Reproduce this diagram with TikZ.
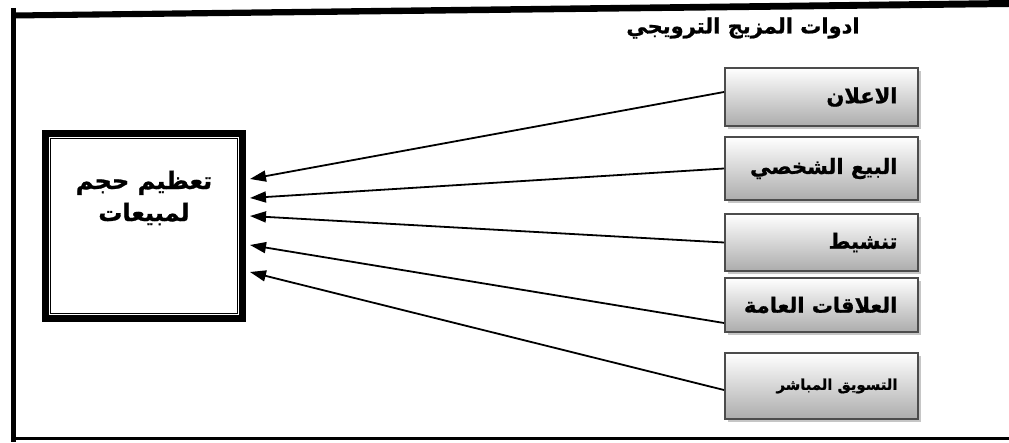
\documentclass[tikz,border=0pt]{standalone}
\usepackage{fontspec}
\newfontfamily\arabicfont[Script=Arabic,BoldFeatures={FakeBold=1}]{DejaVu Sans}
\TeXXeTstate=1
\usetikzlibrary{arrows.meta,shadows}
\newcommand\rtlbox[1]{\makebox[76pt][r]{\beginR #1\endR}}
\begin{document}
\begin{tikzpicture}[x=0.5pt,y=-0.5pt,
  toolbox/.style={draw=gray!60!black,line width=1pt,top color=white,bottom color=gray!65,
    drop shadow={shadow xshift=1.6pt,shadow yshift=-1.6pt,fill=gray!45,opacity=1},
    minimum width=96.5pt,inner xsep=10.25pt,font=\arabicfont\bfseries\fontsize{10.5}{13}\selectfont},
  goalbox/.style={draw,line width=3.6pt,minimum width=98.4pt,minimum height=92.4pt,inner sep=0pt},
  pull/.style={line width=0.9pt,-{Triangle[length=8pt,width=5.5pt]}}]
\useasboundingbox (0,0) rectangle (1009,443);
\fill (13,12.5) -- (1009,0) -- (1009,7) -- (13,18.5) -- cycle;
\draw[line width=2.5pt] (13,8) -- (13,442);
\draw[line width=1.5pt] (13,439) -- (1009,439);
\node (title) at (743,28) {\arabicfont\bfseries\fontsize{10.5}{12}\selectfont\beginR ادوات المزيج الترويجي\endR};
\node[toolbox,minimum height=29pt] (ad) at (821.5,97) {\rtlbox{الاعلان}};
\node[toolbox,minimum height=31.5pt] (sell) at (821.5,168.5) {\rtlbox{البيع الشخصي}};
\node[toolbox,minimum height=28.5pt] (promo) at (821.5,242.5) {\rtlbox{تنشيط}};
\node[toolbox,minimum height=27pt] (pr) at (821.5,305) {\rtlbox{العلاقات العامة}};
\node[toolbox,minimum height=33pt,font=\arabicfont\bfseries\fontsize{7.4}{11}\selectfont] (direct) at (821.5,386) {\rtlbox{التسويق المباشر}};
\node[goalbox] (goal) at (144,226) {};
\draw[line width=0.8pt] ([xshift=4.2pt,yshift=4.2pt]goal.south west) rectangle ([xshift=-4.2pt,yshift=-4.2pt]goal.north east);
\node[align=center,font=\arabicfont\bfseries\fontsize{12}{16}\selectfont] (goaltext) at (144,198) {\beginR تعظيم حجم\endR\\\beginR لمبيعات\endR};
\draw[pull] ([yshift=2.5pt]ad.west) -- ([xshift=2pt,yshift=23.5pt]goal.east);
\draw[pull] (sell.west) -- ([xshift=2pt,yshift=14pt]goal.east);
\draw[pull] (promo.west) -- ([xshift=2pt,yshift=5pt]goal.east);
\draw[pull] ([yshift=-9pt]pr.west) -- ([xshift=2pt,yshift=-9.5pt]goal.east);
\draw[pull] ([yshift=-2pt]direct.west) -- ([xshift=2pt,yshift=-23pt]goal.east);
\end{tikzpicture}
\end{document}
